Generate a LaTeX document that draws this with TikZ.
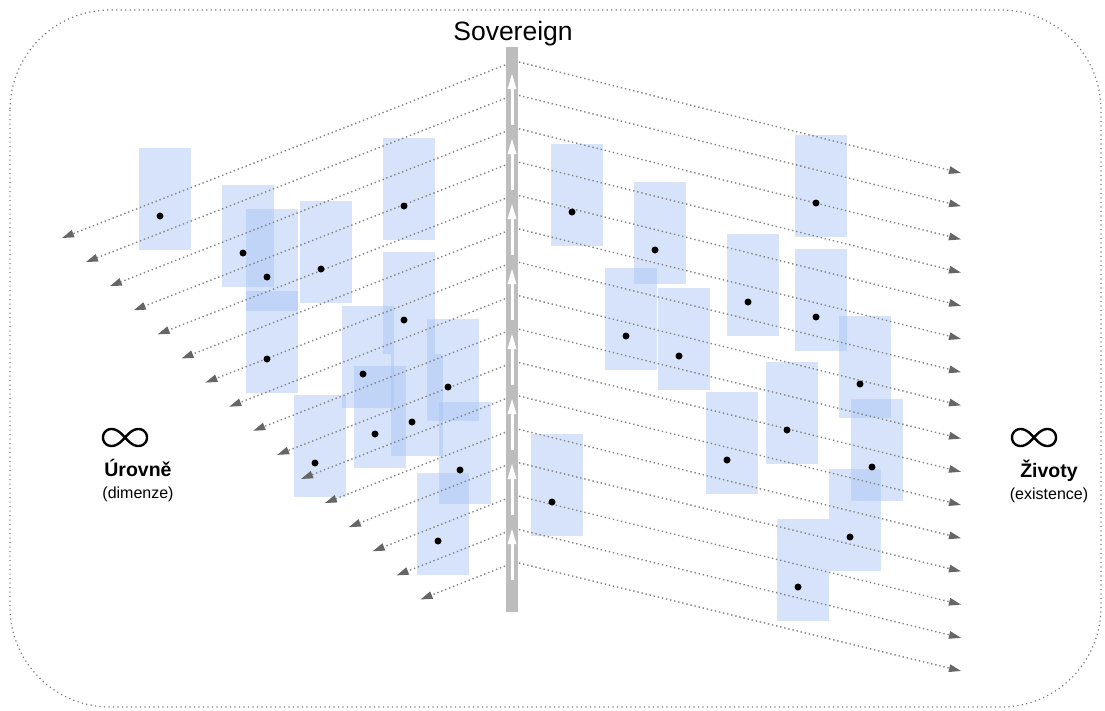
\documentclass[tikz,border=0pt]{standalone}
\usepackage{fontspec}
\setmainfont{Liberation Sans}
\usetikzlibrary{arrows.meta,positioning,calc}
\definecolor{cellblue}{HTML}{A4C2F4}
\definecolor{fangray}{HTML}{858585}
\definecolor{tipgray}{HTML}{666666}
\definecolor{spinegray}{HTML}{BDBDBD}
\definecolor{framegray}{HTML}{7A7A7A}

\begin{document}
\begin{tikzpicture}[x=1pt,y=-1pt,
  every node/.style={font=\fontsize{16}{19}\selectfont},
  outline/.style={draw=framegray,line width=1.2pt,dash pattern=on 1.2pt off 3.3pt,rounded corners=100pt},
  fan/.style={draw=fangray,line width=1.4pt,dash pattern=on 1.4pt off 2.8pt,-{Triangle[length=12pt,width=7.5pt,color=tipgray]}},
  cell/.style={fill=cellblue,fill opacity=0.45,inner sep=0pt,minimum width=52pt,minimum height=102pt},
  dotpt/.style={circle,fill=black,inner sep=0pt,minimum size=7pt},
  spine/.style={fill=spinegray,inner sep=0pt,minimum width=12pt,minimum height=565pt},
  flowup/.style={white,line width=3pt,-{Triangle[length=16pt,width=8pt]}},
  infsym/.style={black,line width=2.4pt,line join=round},
  lblhead/.style={font=\fontsize{19.5}{22}\selectfont\bfseries,anchor=base},
  lblsub/.style={anchor=base}]
\def\lvlpts{160/216,243/253,267/277,267/359,321/269,404/206,404/320,363/374,448/387,375/434,412/422,460/470,315/463,438/541}
\def\lifepts{572/212,655/250,816/203,748/302,816/317,626/336,679/356,860/384,787/430,727/460,872/467,850/537,798/587,552/502}
\useasboundingbox (0,0) rectangle (1105,710);
\draw[outline] (10,10) rectangle (1101,707);
% cells behind the arrows
\foreach \px/\py [count=\i] in \lvlpts \node[cell] (cu\i) at ({\px+5},{\py-17}) {};
\foreach \px/\py [count=\i] in \lifepts \node[cell] (cz\i) at ({\px+5},{\py-17}) {};
% fan of arrows out of the spine
\foreach \k in {0,...,15} {
  \coordinate (ls\k) at (505,{65+33.4*\k});
  \coordinate (le\k) at ({62+23.9*\k},{238+24.1*\k});
  \coordinate (rs\k) at (519,{62+33.4*\k});
  \coordinate (re\k) at (961,{173+33.2*\k});
  \draw[fan] (ls\k) -- (le\k);
  \draw[fan] (rs\k) -- (re\k);
}
\foreach \px/\py [count=\i] in \lvlpts \node[dotpt] (u\i) at (\px,\py) {};
\foreach \px/\py [count=\i] in \lifepts \node[dotpt] (z\i) at (\px,\py) {};
% spine
\node[spine] (spine) at (512,329.5) {};
\node[anchor=base,font=\fontsize{26.5}{30}\selectfont] (sov) at (513,40) {Sovereign};
\foreach \k in {0,...,7} {
  \coordinate (fa\k) at (512,{125+65*\k});
  \coordinate (fb\k) at (512,{73+65*\k});
  \draw[flowup] (fa\k) -- (fb\k);
}
% the two infinities
\foreach \cx in {125,1034}
  \draw[infsym,shift={(\cx,437.5)}] plot[domain=0:360,samples=121] ({22*cos(\x)/(1+(sin(\x))^2)},{24*sin(\x)*cos(\x)/(1+(sin(\x))^2)});
\node[lblhead] (urovne) at (138,476) {Úrovně};
\node[lblsub] (dimenze) at (138,498) {(dimenze)};
\node[lblhead] (zivoty) at (1049,477) {Životy};
\node[lblsub] (existence) at (1049,499) {(existence)};
\end{tikzpicture}
\end{document}
